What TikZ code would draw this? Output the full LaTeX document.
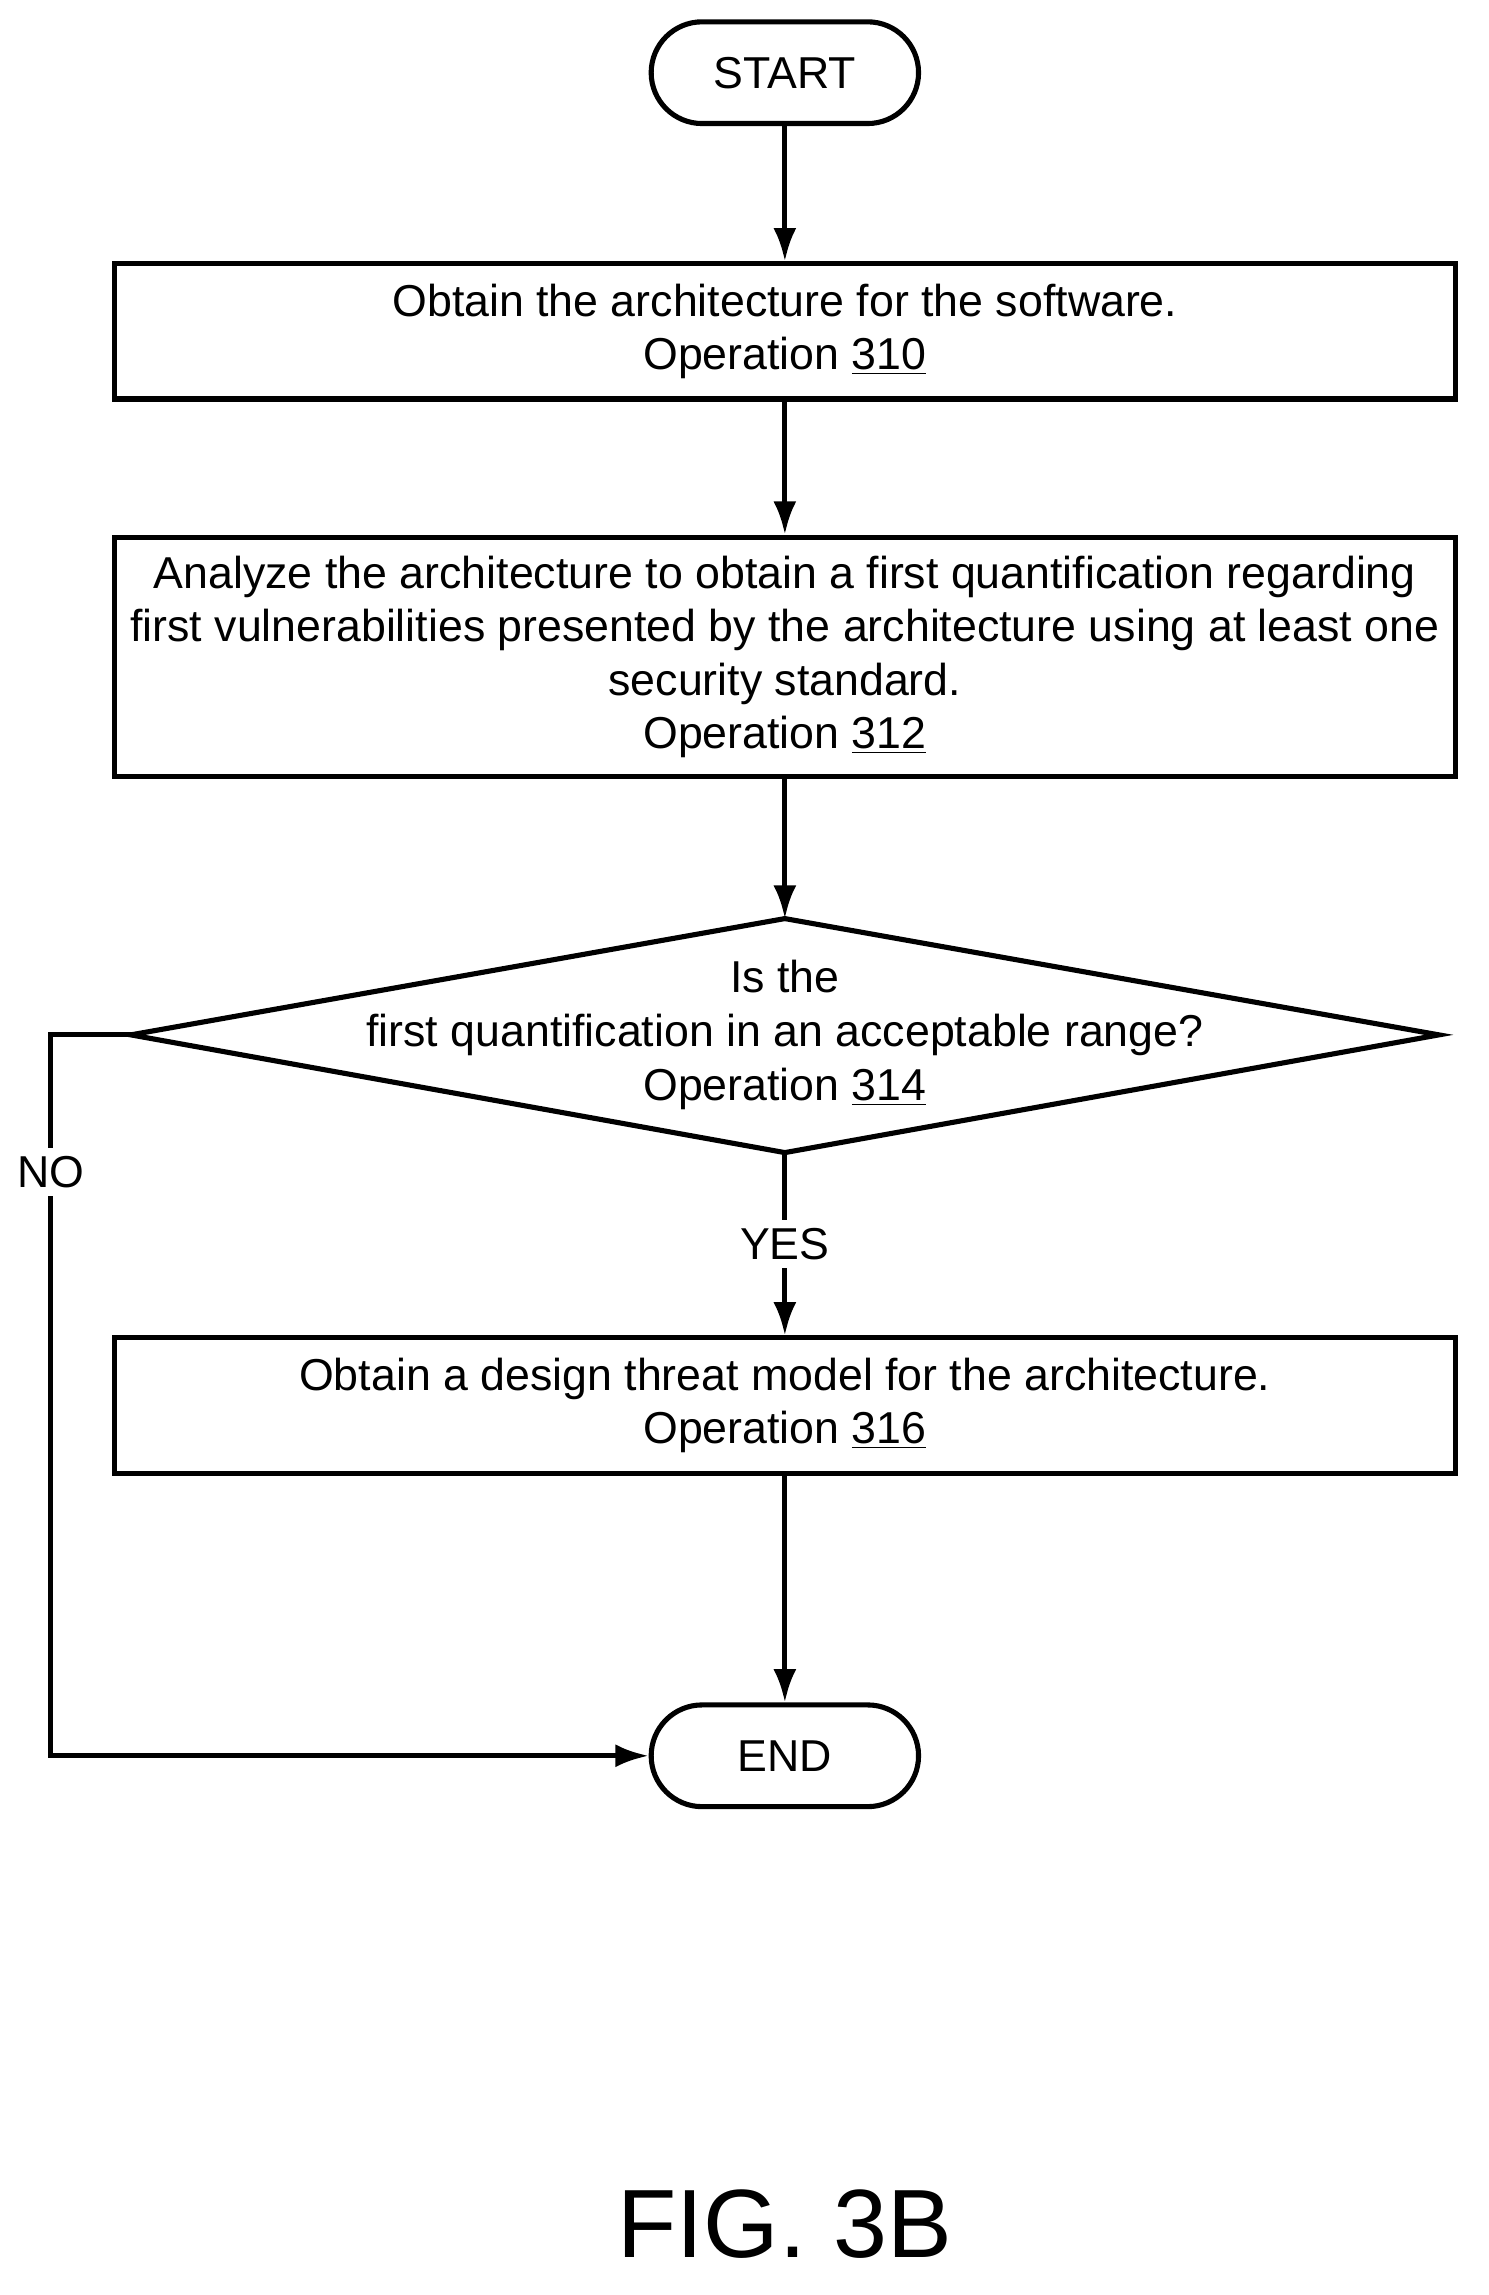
\documentclass[tikz,border=0pt]{standalone}
\usepackage{fontspec}
\setmainfont{Liberation Sans}
\usetikzlibrary{arrows.meta}
\tikzset{
  opbox/.style={draw, line width=2pt, minimum width=18.46cm, minimum height=1.86cm, align=center, font=\fontsize{17.5}{21}\selectfont},
  term/.style={draw, line width=2pt, rounded corners=0.7cm, minimum width=3.68cm, minimum height=1.4cm, font=\fontsize{17.5}{21}\selectfont},
  flow/.style={line width=2pt, -{Latex[length=13pt,width=9pt]}},
  lbl/.style={fill=white, font=\fontsize{17.5}{21}\selectfont},
}
\begin{document}
\begin{tikzpicture}[x=0.02cm, y=-0.02cm]
			\useasboundingbox (0,0) rectangle (1024,1579);
			
			\node[term] (start) at (540, 50) {START};
			\node[opbox] (s310) at (540, 228) {Obtain the architecture for the software.\\Operation \underline{310}};
			\node[opbox, minimum height=3.3cm] (s312) at (540, 452) {Analyze the architecture to obtain a first quantification regarding\\first vulnerabilities presented by the architecture using at least one\\security standard.\\Operation \underline{312}};
			\node[align=center, font=\fontsize{17.5}{21}\selectfont] (q314) at (540, 712) {Is the\\first quantification in an acceptable range?\\Operation \underline{314}};
			\coordinate (q314n) at (540, 632);
			\coordinate (q314s) at (540, 793);
			\coordinate (q314w) at (90, 712);
			\coordinate (q314e) at (990, 712);
			\draw[line width=2pt, line join=miter] (q314n) -- (q314e) -- (q314s) -- (q314w) -- cycle;
			\node[opbox] (s316) at (540, 967) {Obtain a design threat model for the architecture.\\Operation \underline{316}};
			\node[term] (end) at (540, 1208) {END};
			\coordinate (nobend) at (35, 712);
			\coordinate (nofoot) at (35, 1208);
			
			\draw[flow] (start) to (s310);
			\draw[flow] (s310) to (s312);
			\draw[flow] (s312) to (q314n);
			\draw[flow] (q314s) to node[lbl] {YES} (s316);
			\draw[flow] (s316) to (end);
			\draw[flow] (q314w) -- (nobend) -- node[lbl, pos=0.19] {NO} (nofoot) -- (end);
			
			\node[font=\fontsize{38}{42}\selectfont] (fig) at (540, 1530) {FIG. 3B};
			\end{tikzpicture}
\end{document}
